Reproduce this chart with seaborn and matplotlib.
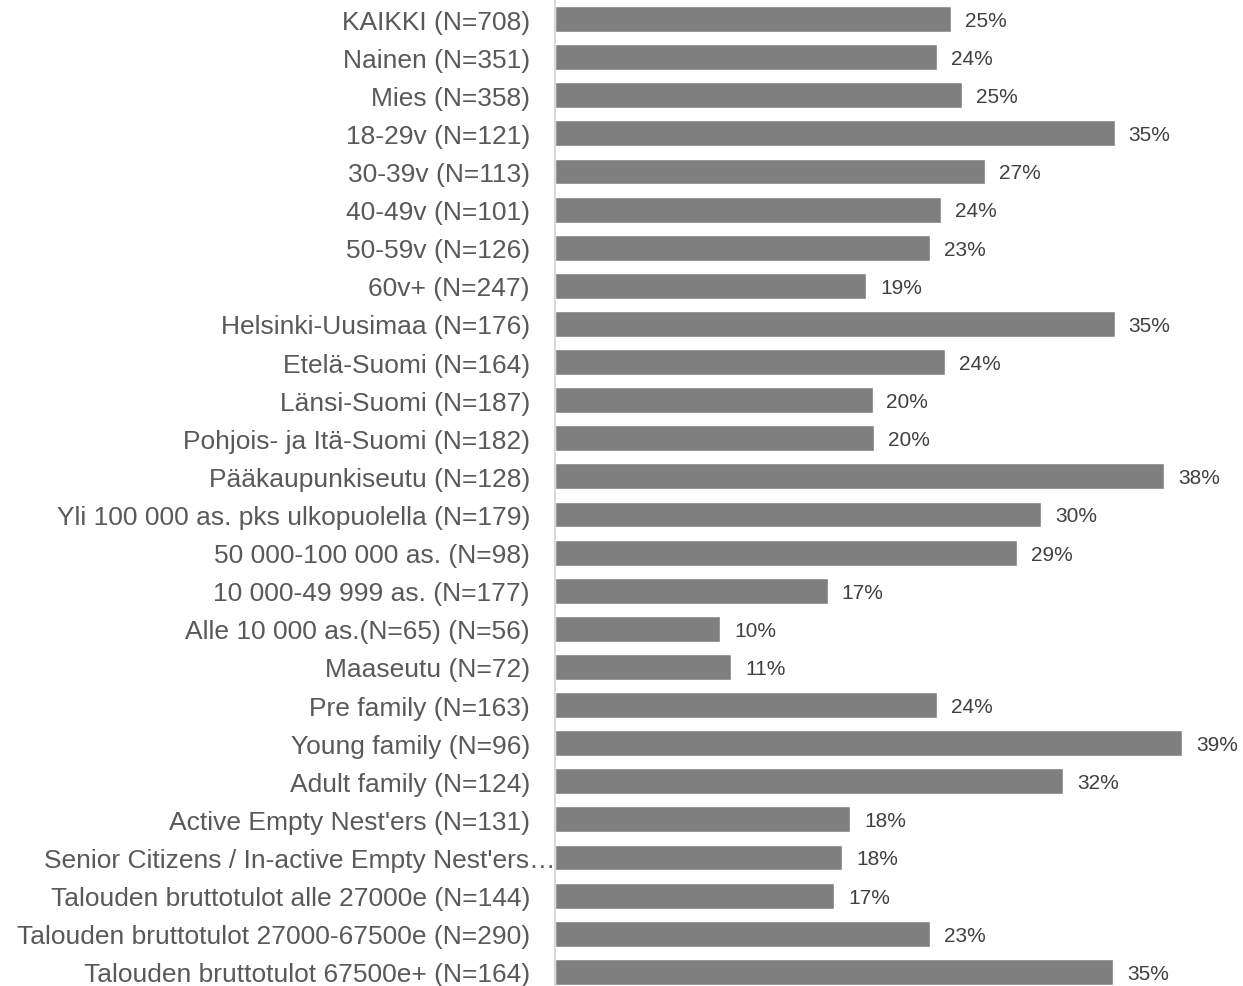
import matplotlib
matplotlib.use("Agg")
import matplotlib.pyplot as plt
import matplotlib.transforms as mtransforms
import seaborn as sns
import pandas as pd

# --- Data ---
categories = [
    "KAIKKI (N=708)",
    "Nainen (N=351)",
    "Mies (N=358)",
    "18-29v (N=121)",
    "30-39v (N=113)",
    "40-49v (N=101)",
    "50-59v (N=126)",
    "60v+ (N=247)",
    "Helsinki-Uusimaa (N=176)",
    "Etelä-Suomi (N=164)",
    "Länsi-Suomi (N=187)",
    "Pohjois- ja Itä-Suomi (N=182)",
    "Pääkaupunkiseutu (N=128)",
    "Yli 100 000 as. pks ulkopuolella (N=179)",
    "50 000-100 000 as. (N=98)",
    "10 000-49 999 as. (N=177)",
    "Alle 10 000 as.(N=65) (N=56)",
    "Maaseutu (N=72)",
    "Pre family (N=163)",
    "Young family (N=96)",
    "Adult family (N=124)",
    "Active Empty Nest'ers (N=131)",
    "Senior Citizens / In-active Empty Nest'ers\u2026",
    "Talouden bruttotulot alle 27000e (N=144)",
    "Talouden bruttotulot 27000-67500e (N=290)",
    "Talouden bruttotulot 67500e+ (N=164)",
]
values = [24.7, 23.8, 25.4, 34.9, 26.8, 24.1, 23.4, 19.4, 34.9, 24.3, 19.8, 19.9,
          38.0, 30.3, 28.8, 17.0, 10.3, 11.0, 23.8, 39.1, 31.7, 18.4, 17.9, 17.4,
          23.4, 34.8]

df = pd.DataFrame({"group": categories, "share": values})

sns.set_theme(style="white")
plt.rcParams["font.family"] = ["Liberation Sans", "DejaVu Sans"]

fig = plt.figure(figsize=(12.43, 9.87), dpi=100)
ax = fig.add_axes([0.4465, -0.005, 0.5535, 1.004])

sns.barplot(data=df, x="share", y="group", orient="h", color="#7f7f7f",
            saturation=1, width=0.68, ax=ax)

ax.set_xlim(0, 42.9)
ax.set_xlabel("")
ax.set_ylabel("")
ax.set_xticks([])

for side in ["top", "right", "bottom"]:
    ax.spines[side].set_visible(False)
ax.spines["left"].set_color("#d9d9d9")
ax.spines["left"].set_linewidth(1.5)

ax.tick_params(axis="y", length=0, pad=18, labelsize=19, labelcolor="#595959")

# the truncated label runs up to the axis line in the original
long_tick = ax.yaxis.get_major_ticks()[22]
long_tick.label1.set_transform(long_tick.label1.get_transform() +
                               mtransforms.ScaledTranslation(26 / 100, 0, fig.dpi_scale_trans))

# value labels to the right of each bar
for bar, v in zip(ax.patches, values):
    ax.annotate(f"{round(v):.0f}%", (bar.get_width(), bar.get_y() + bar.get_height() / 2),
                xytext=(10, -1), textcoords="offset points", va="center", ha="left",
                fontsize=15, color="#404040")

fig.savefig("out.png", dpi=100)
